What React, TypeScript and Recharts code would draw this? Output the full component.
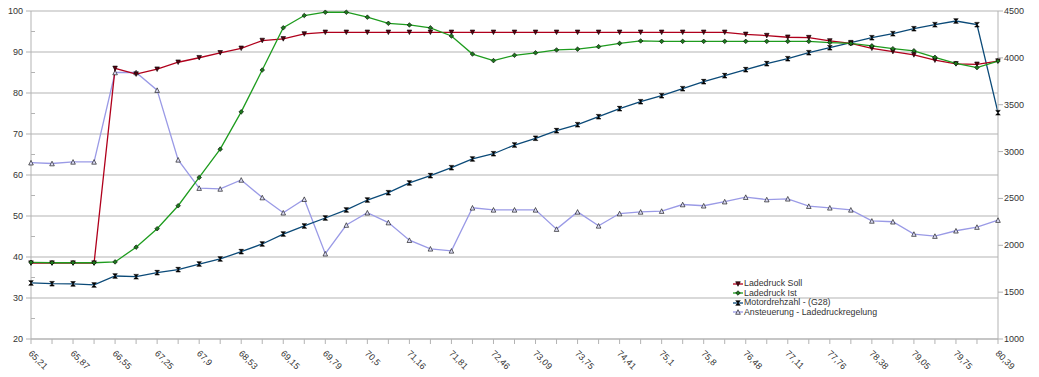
import { LineChart, Line, XAxis, YAxis, CartesianGrid } from "recharts";

// km/h-ish sample positions (only every 2nd one is labelled on the axis)
const positions = [
  "65,21", "65,54", "65,87", "66,21", "66,55", "66,9", "67,25", "67,58",
  "67,9", "68,22", "68,53", "68,84", "69,15", "69,47", "69,79", "70,14",
  "70,5", "70,83", "71,16", "71,49", "71,81", "72,13", "72,46", "72,78",
  "73,09", "73,42", "73,75", "74,08", "74,41", "74,76", "75,1", "75,45",
  "75,8", "76,14", "76,48", "76,8", "77,11", "77,44", "77,76", "78,07",
  "78,38", "78,72", "79,05", "79,4", "79,75", "80,07", "80,39",
];

const ladedruckSoll = [
  38.5, 38.5, 38.5, 38.5, 86.0, 84.6, 85.8, 87.5, 88.6, 89.8, 90.9, 92.8,
  93.2, 94.4, 94.8, 94.8, 94.8, 94.8, 94.8, 94.8, 94.8, 94.8, 94.8, 94.8,
  94.8, 94.8, 94.8, 94.8, 94.8, 94.8, 94.8, 94.8, 94.8, 94.8, 94.3, 94.0,
  93.6, 93.5, 92.7, 92.1, 90.9, 90.1, 89.3, 88.0, 87.1, 87.0, 87.8,
];

const ladedruckIst = [
  38.7, 38.6, 38.6, 38.6, 38.8, 42.4, 46.9, 52.5, 59.4, 66.3, 75.4, 85.6,
  95.9, 98.9, 99.7, 99.7, 98.5, 97.0, 96.6, 95.9, 93.9, 89.5, 87.9, 89.2,
  89.8, 90.5, 90.7, 91.3, 92.1, 92.7, 92.6, 92.6, 92.6, 92.6, 92.6, 92.6,
  92.6, 92.6, 92.3, 92.1, 91.5, 90.8, 90.3, 88.7, 87.2, 86.2, 87.8,
];

const motordrehzahl = [
  1598, 1590, 1588, 1577, 1672, 1665, 1708, 1740, 1800, 1854, 1932, 2014,
  2120, 2206, 2291, 2377, 2483, 2561, 2665, 2743, 2828, 2921, 2977, 3070,
  3142, 3223, 3287, 3372, 3458, 3532, 3596, 3671, 3746, 3810, 3874, 3938,
  3991, 4055, 4108, 4162, 4215, 4258, 4311, 4354, 4393, 4354, 3415,
];

const ansteuerung = [
  63.0, 62.8, 63.2, 63.2, 85.0, 85.0, 80.7, 63.7, 56.8, 56.6, 58.8, 54.5,
  50.8, 54.1, 40.8, 47.8, 50.8, 48.4, 44.1, 42.0, 41.5, 52.0, 51.5, 51.5,
  51.5, 46.8, 51.0, 47.6, 50.6, 51.0, 51.2, 52.8, 52.5, 53.5, 54.6, 54.0,
  54.2, 52.4, 52.0, 51.5, 48.8, 48.6, 45.6, 45.1, 46.4, 47.3, 49.0,
];

const leftTicks = [20, 25, 30, 35, 40, 45, 50, 55, 60, 65, 70, 75, 80, 85, 90, 95, 100];
const gridValues = [20, 30, 40, 50, 60, 70, 80, 90, 100];
const rightTicks = [1000, 1500, 2000, 2500, 3000, 3500, 4000, 4500];

const FONT = "'Liberation Sans', Arial, sans-serif";
const AXIS = "#b3b3b3";
const TEXT = "#333";

const COLORS = {
  soll: "#b0001c",
  ist: "#1e9c1e",
  rpm: "#0b4a78",
  ans: "#9a9ae6",
};

const data = positions.map((x, i) => ({
  x,
  soll: ladedruckSoll[i],
  ist: ladedruckIst[i],
  rpm: motordrehzahl[i],
  ans: ansteuerung[i],
}));

// marker shapes, drawn like the old spreadsheet symbols
const marker = (kind: string, cx: number, cy: number, key?: any) => {
  const s = 2.3;
  if (kind === "soll") {
    return (
      <polygon key={key} points={`${cx - s},${cy - s} ${cx + s},${cy - s} ${cx},${cy + s}`}
        fill="#5a0010" stroke="#000" strokeWidth={0.6} />
    );
  }
  if (kind === "ist") {
    return (
      <polygon key={key} points={`${cx},${cy - s} ${cx + s},${cy} ${cx},${cy + s} ${cx - s},${cy}`}
        fill="#1e7a1e" stroke="#000" strokeWidth={0.6} />
    );
  }
  if (kind === "rpm") {
    return (
      <polygon key={key} points={`${cx - s},${cy - s} ${cx + s},${cy - s} ${cx - s},${cy + s} ${cx + s},${cy + s}`}
        fill="#000" stroke="#000" strokeWidth={0.6} />
    );
  }
  return (
    <polygon key={key} points={`${cx - s},${cy + s} ${cx + s},${cy + s} ${cx},${cy - s}`}
      fill="#dcdcf5" stroke="#000" strokeWidth={0.6} />
  );
};

const dotFor = (kind: string) => (props: any) => marker(kind, props.cx, props.cy, props.index);

const LeftTick = (props: any) => {
  const { x, y, payload } = props;
  const major = payload.value % 10 === 0;
  if (!major) {
    return <line x1={x} x2={x + 4} y1={y} y2={y} stroke={AXIS} />;
  }
  return (
    <g>
      <line x1={x - 5} x2={x} y1={y} y2={y} stroke={AXIS} />
      <text x={x - 8} y={y + 3} textAnchor="end" fontSize={9} fontFamily={FONT} fill={TEXT}>
        {payload.value}
      </text>
    </g>
  );
};

const RightTick = (props: any) => {
  const { x, y, payload } = props;
  return (
    <g>
      <line x1={x} x2={x + 5} y1={y} y2={y} stroke={AXIS} />
      <text x={x + 6} y={y + 3} textAnchor="start" fontSize={9} fontFamily={FONT} fill={TEXT}>
        {payload.value}
      </text>
    </g>
  );
};

const BottomTick = (props: any) => {
  const { x, y, payload, index } = props;
  return (
    <g>
      <line x1={x} x2={x} y1={y} y2={y + 5} stroke={AXIS} />
      {index % 2 === 0 && (
        <text x={x - 3} y={y + 15} transform={`rotate(45 ${x - 3} ${y + 15})`}
          textAnchor="start" fontSize={9} fontFamily={FONT} fill={TEXT}>
          {payload.value}
        </text>
      )}
    </g>
  );
};

const legendItems = [
  { kind: "soll", label: "Ladedruck Soll" },
  { kind: "ist", label: "Ladedruck Ist" },
  { kind: "rpm", label: "Motordrehzahl - (G28)" },
  { kind: "ans", label: "Ansteuerung - Ladedruckregelung" },
];

export default function App() {
  return (
    <div style={{ position: "absolute", left: 0, top: 0, width: 1039, height: 377, background: "#fff" }}>
      <LineChart width={1039} height={377} data={data} margin={{ top: 11, right: 0, bottom: 0, left: 0 }}>
        <CartesianGrid yAxisId="left" horizontal vertical={false} stroke={AXIS} horizontalValues={gridValues} />
        <XAxis dataKey="x" interval={0} height={38} tickSize={0} tickMargin={0}
          stroke={AXIS} tick={<BottomTick />} tickLine={false} />
        <YAxis yAxisId="left" domain={[20, 100]} ticks={leftTicks} width={31} tickSize={0} tickMargin={0}
          stroke={AXIS} tick={<LeftTick />} tickLine={false} interval={0} />
        <YAxis yAxisId="right" orientation="right" domain={[1000, 4500]} ticks={rightTicks} width={41}
          tickSize={0} tickMargin={0} stroke={AXIS} tick={<RightTick />} tickLine={false} interval={0} />
        <Line yAxisId="left" dataKey="ans" stroke={COLORS.ans} strokeWidth={1.3} dot={dotFor("ans")}
          activeDot={false} isAnimationActive={false} />
        <Line yAxisId="right" dataKey="rpm" stroke={COLORS.rpm} strokeWidth={1.3} dot={dotFor("rpm")}
          activeDot={false} isAnimationActive={false} />
        <Line yAxisId="left" dataKey="soll" stroke={COLORS.soll} strokeWidth={1.3} dot={dotFor("soll")}
          activeDot={false} isAnimationActive={false} />
        <Line yAxisId="left" dataKey="ist" stroke={COLORS.ist} strokeWidth={1.3} dot={dotFor("ist")}
          activeDot={false} isAnimationActive={false} />
      </LineChart>
      <div style={{ position: "absolute", left: 733, top: 279, fontFamily: FONT, fontSize: 8.8, color: TEXT }}>
        {legendItems.map((it) => (
          <div key={it.kind} style={{ display: "flex", alignItems: "center", height: 9.5, lineHeight: "9.5px" }}>
            <svg width={10} height={8} style={{ marginRight: 1 }}>
              <line x1={0} x2={10} y1={4} y2={4} stroke={(COLORS as any)[it.kind]} strokeWidth={1.3} />
              {marker(it.kind, 5, 4)}
            </svg>
            <span>{it.label}</span>
          </div>
        ))}
      </div>
    </div>
  );
}
